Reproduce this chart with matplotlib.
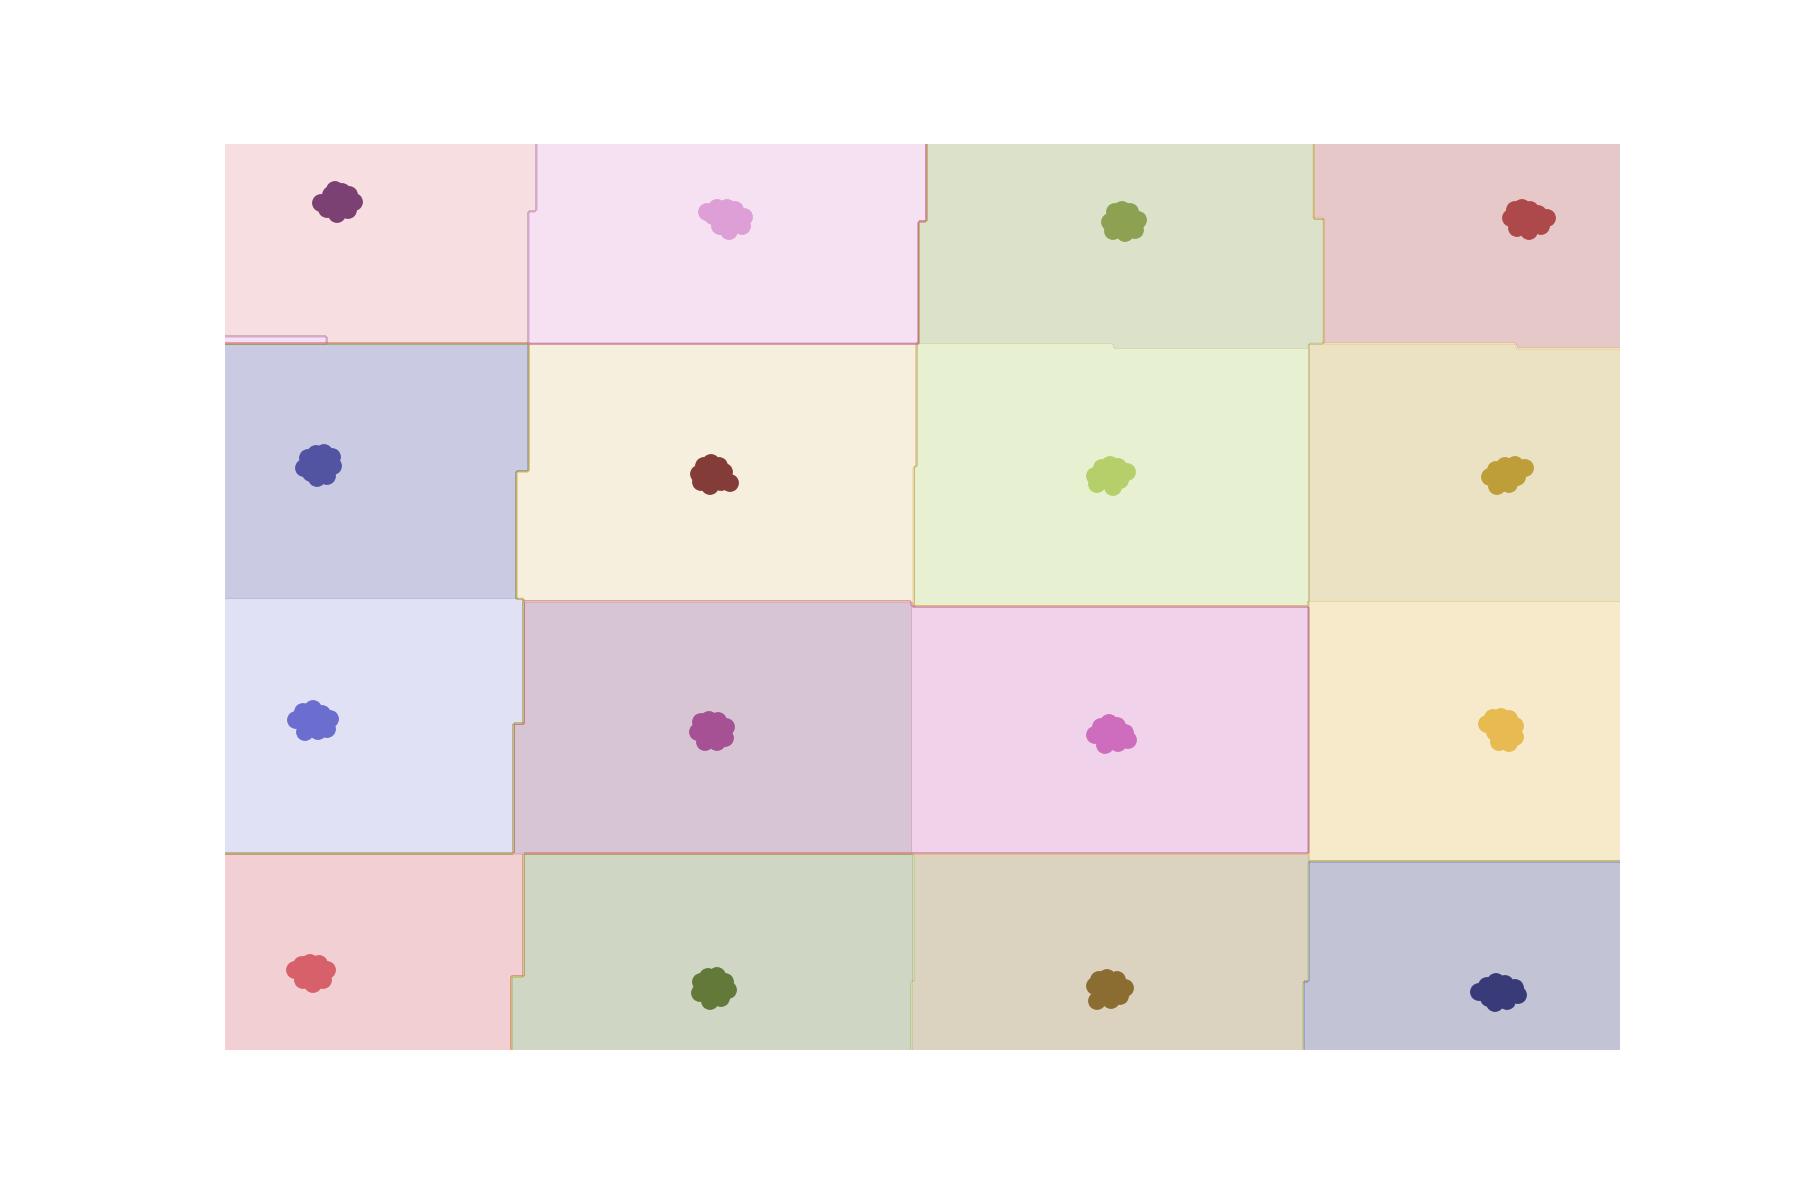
import numpy as np
import matplotlib
matplotlib.use('Agg')
import matplotlib.pyplot as plt

# predicted class regions, painted in order (later ones overwrite)
# x0, x1, y0, y1, label
U = 99
regions = [
    (-U, U, 7.075, U, 12),
    (-U, 1.01, 7.075, 7.15, 15),
    (3.11, U, 8.40, U, 15),
    (3.03, U, 7.075, 8.40, 15),
    (7.01, U, 8.30, U, 4),
    (6.94, U, 7.075, 8.30, 4),
    (10.88, U, 8.31, U, 10),
    (11.00, U, 7.075, 8.31, 10),
    (-U, U, -U, 7.075, 1),
    (3.03, U, 5.80, 7.075, 9),
    (2.92, U, -U, 5.80, 9),
    (6.91, U, 5.83, 7.075, 5),
    (6.89, U, -U, 5.83, 5),
    (10.83, U, -U, 7.075, 7),
    (8.90, 10.83, 7.02, 7.075, 4),
    (12.92, U, 7.02, 7.075, 10),
    (-U, 3.00, 3.27, 4.52, 2),
    (-U, 2.89, -U, 3.27, 2),
    (3.00, 6.87, -U, 4.50, 13),
    (2.89, 3.00, -U, 3.27, 13),
    (6.87, 10.83, -U, 4.45, 14),
    (10.83, U, -U, 4.48, 8),
    (-U, 3.00, 0.74, 1.97, 11),
    (-U, 2.87, -U, 0.74, 11),
    (3.00, 6.89, -U, 1.96, 3),
    (2.87, 3.00, -U, 0.74, 3),
    (6.89, 10.83, 0.70, 1.96, 6),
    (6.87, 10.80, -U, 0.70, 6),
    (10.83, U, 0.70, 1.88, 0),
    (10.80, U, -U, 0.70, 0),
]

# sample points, one list per class
blob_labels = [12, 15, 4, 10, 1, 9, 5, 7, 2, 13, 14, 8, 11, 3, 6, 0]
blob_x = [
    [0.96, 1.02, 1.06, 1.10, 1.17, 1.24, 1.29, 1.23, 1.12, 1.14, 1.08, 1.18, 1.13],
    [4.82, 4.92, 5.02, 5.10, 5.19, 5.17, 5.04, 4.95, 5.00, 4.88, 4.96, 5.06, 5.01, 5.12],
    [8.85, 8.90, 8.97, 9.05, 9.13, 9.10, 9.00, 8.88, 8.98, 9.06, 8.95, 9.05, 9.00],
    [12.86, 12.90, 12.97, 13.05, 13.13, 13.22, 13.16, 13.04, 12.92, 13.02, 13.00, 13.10, 13.08],
    [0.79, 0.83, 0.91, 0.99, 1.07, 1.08, 1.02, 0.92, 0.86, 0.96, 0.88, 0.98, 0.94],
    [4.74, 4.79, 4.86, 4.94, 4.99, 5.05, 4.96, 4.85, 4.76, 4.90, 4.84, 4.94, 4.90],
    [8.70, 8.77, 8.85, 8.93, 9.02, 8.95, 8.88, 8.72, 8.82, 8.90, 8.80, 8.90, 8.86],
    [12.65, 12.71, 12.80, 12.90, 13.00, 12.92, 12.84, 12.72, 12.78, 12.88, 12.76, 12.86, 12.83],
    [0.71, 0.78, 0.88, 0.97, 1.05, 1.02, 0.93, 0.80, 0.86, 0.95, 0.83, 0.93, 0.88],
    [4.73, 4.76, 4.84, 4.93, 5.01, 5.00, 4.92, 4.80, 4.86, 4.95, 4.82, 4.92, 4.87],
    [8.70, 8.76, 8.84, 8.92, 9.00, 9.03, 8.93, 8.80, 8.85, 8.95, 8.81, 8.91, 8.86],
    [12.62, 12.68, 12.76, 12.84, 12.90, 12.90, 12.84, 12.74, 12.70, 12.80, 12.72, 12.82, 12.77],
    [0.70, 0.77, 0.85, 0.94, 1.02, 0.98, 0.88, 0.78, 0.84, 0.93, 0.81, 0.91, 0.86],
    [4.75, 4.76, 4.83, 4.92, 5.00, 5.03, 4.96, 4.85, 4.88, 4.94, 4.84, 4.94, 4.89],
    [8.70, 8.74, 8.82, 8.92, 9.00, 8.95, 8.86, 8.72, 8.80, 8.88, 8.79, 8.90, 8.84],
    [12.54, 12.62, 12.71, 12.80, 12.90, 12.93, 12.82, 12.70, 12.64, 12.75, 12.68, 12.78, 12.74],
]
blob_y = [
    [8.47, 8.41, 8.55, 8.60, 8.58, 8.55, 8.48, 8.40, 8.36, 8.47, 8.51, 8.51, 8.43],
    [8.38, 8.42, 8.42, 8.40, 8.33, 8.24, 8.19, 8.24, 8.33, 8.34, 8.36, 8.36, 8.26, 8.30],
    [8.28, 8.38, 8.40, 8.38, 8.30, 8.20, 8.17, 8.19, 8.28, 8.25, 8.32, 8.32, 8.24],
    [8.32, 8.40, 8.42, 8.40, 8.36, 8.32, 8.24, 8.19, 8.22, 8.30, 8.34, 8.34, 8.26],
    [5.82, 5.92, 5.96, 5.97, 5.93, 5.84, 5.74, 5.72, 5.77, 5.85, 5.88, 5.88, 5.79],
    [5.76, 5.84, 5.87, 5.84, 5.78, 5.67, 5.68, 5.64, 5.68, 5.75, 5.79, 5.79, 5.70],
    [5.74, 5.82, 5.85, 5.83, 5.78, 5.70, 5.63, 5.66, 5.73, 5.76, 5.78, 5.78, 5.69],
    [5.73, 5.80, 5.84, 5.85, 5.82, 5.73, 5.66, 5.64, 5.74, 5.77, 5.79, 5.79, 5.70],
    [3.30, 3.38, 3.41, 3.36, 3.31, 3.21, 3.19, 3.18, 3.27, 3.28, 3.33, 3.33, 3.24],
    [3.18, 3.28, 3.30, 3.29, 3.23, 3.12, 3.08, 3.08, 3.18, 3.19, 3.23, 3.23, 3.14],
    [3.15, 3.23, 3.27, 3.24, 3.17, 3.10, 3.07, 3.05, 3.15, 3.14, 3.20, 3.20, 3.11],
    [3.26, 3.32, 3.33, 3.31, 3.24, 3.13, 3.07, 3.08, 3.18, 3.20, 3.25, 3.25, 3.14],
    [0.80, 0.85, 0.87, 0.86, 0.80, 0.70, 0.66, 0.70, 0.77, 0.76, 0.81, 0.81, 0.72],
    [0.57, 0.68, 0.73, 0.74, 0.68, 0.60, 0.52, 0.49, 0.61, 0.63, 0.66, 0.67, 0.56],
    [0.64, 0.70, 0.72, 0.70, 0.62, 0.54, 0.50, 0.49, 0.60, 0.62, 0.65, 0.66, 0.55],
    [0.58, 0.64, 0.68, 0.66, 0.62, 0.55, 0.49, 0.47, 0.52, 0.58, 0.61, 0.61, 0.53],
]

x_min, x_max = 0, 13.95
y_min, y_max = 0, 9.06
h = 0.025


def paint_regions():
    xs = np.arange(x_min - h, x_max + 2 * h, h)
    ys = np.arange(y_min - h, y_max + 2 * h, h)
    xx, yy = np.meshgrid(xs, ys)
    Z = np.zeros(xx.shape)
    for x0, x1, y0, y1, lab in regions:
        Z[(xx >= x0) & (xx < x1) & (yy >= y0) & (yy < y1)] = lab
    return xx, yy, Z


xx, yy, Z = paint_regions()

fig = plt.figure(figsize=(18, 12), dpi=100)
ax = fig.add_axes([0.125, 0.125, 0.775, 0.755])

ax.contourf(xx, yy, Z, levels=np.arange(-0.5, 16, 1), cmap='tab20b', alpha=0.3)

px, py, pc = [], [], []
for lab, bx, by in zip(blob_labels, blob_x, blob_y):
    px += bx
    py += by
    pc += [lab] * len(bx)
ax.scatter(px, py, c=pc, cmap='tab20b', vmin=0, vmax=15, s=165, linewidths=0)

ax.set_xlim(x_min, x_max)
ax.set_ylim(y_min, y_max)
ax.axis('off')

fig.savefig('out.png', dpi=100)
